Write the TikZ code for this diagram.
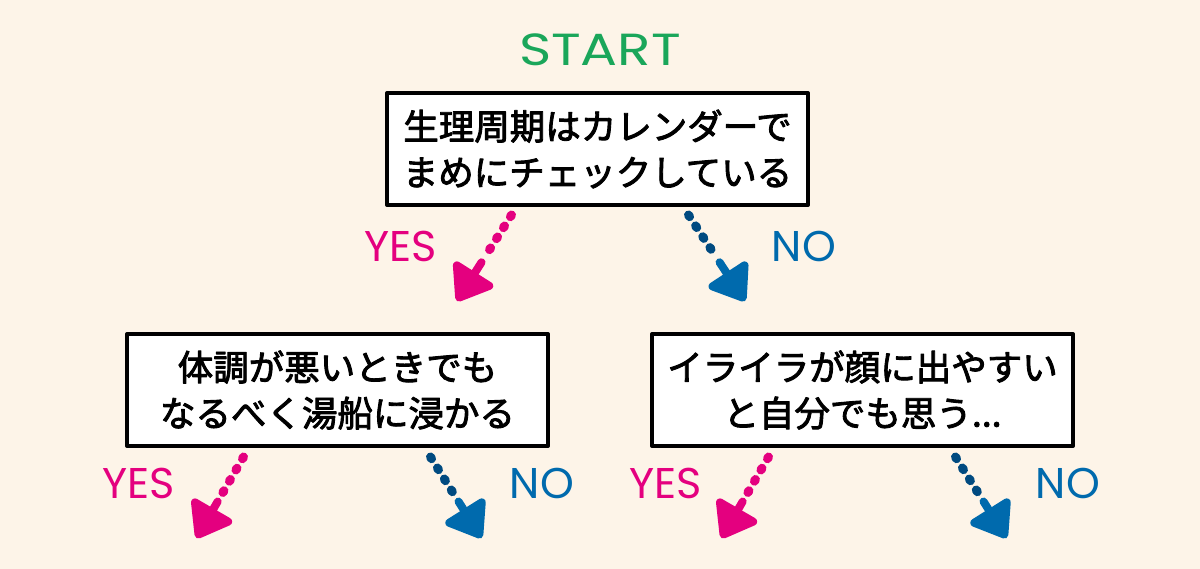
\documentclass[tikz,border=0pt]{standalone}
\usepackage{fontspec}
\usetikzlibrary{calc,arrows.meta}
\newfontfamily\jpfont[FakeBold=2.5]{Noto Sans CJK JP}
\newfontfamily\labfont{Poppins}
\definecolor{bgcream}{HTML}{FDF4E8}
\definecolor{yespink}{HTML}{E4007F}
\definecolor{noblue}{HTML}{006AAD}
\definecolor{nonavy}{HTML}{004A80}
\definecolor{startgreen}{HTML}{1AA65A}
\tikzset{
    qbox/.style={
        draw=black, line width=4pt, fill=white, inner sep=0pt,
        minimum width=421pt, minimum height=112pt, align=center,
        font=\jpfont\fontsize{35.5}{46}\selectfont
    },
    lab/.style={
        anchor=base, font=\labfont\fontsize{43}{50}\selectfont
    },
    dotline/.style={
        line width=9pt, line cap=round, dash pattern=on 2pt off 11pt
    },
    headarrow/.style={
        line width=8pt, line cap=round, -{Triangle[length=37pt,width=52pt,round]}
    }
}

\begin{document}
\begin{tikzpicture}[x=1pt,y=-1pt, line cap=round, line join=round]

\fill[bgcream] (0,0) rectangle (1200,569);
\useasboundingbox (0,0) rectangle (1200,569);

\node[lab, color=startgreen, font=\labfont\fontsize{45}{52}\selectfont, xscale=1.22] (start) at (600,66) {START};

% questions
\node[qbox] (q0) at (597.5,149) {生理周期はカレンダーで\\まめにチェックしている};
\node[qbox] (q1) at (337.5,390) {体調が悪いときでも\\なるべく湯船に浸かる};
\node[qbox] (q2) at (862.5,390) {イライラが顔に出やすい\\と自分でも思う...};

% arrow ends below each box
\coordinate (y0) at ($(q0.south)+(-86,8)$);
\coordinate (n0) at ($(q0.south)+(91,8)$);
\coordinate (y0t) at (457,301);
\coordinate (n0t) at (745,301);
\foreach \q in {1,2} {
  \coordinate (y\q) at ($(q\q.south)+(-94,9)$);
  \coordinate (n\q) at ($(q\q.south)+(93,9)$);
  \coordinate (y\q t) at ($(q\q.south)+(-141,90)$);
  \coordinate (n\q t) at ($(q\q.south)+(144,90)$);
}

\foreach \q in {0,1,2} {
  \draw[dotline, yespink] (y\q) -- ($(y\q)!0.5!(y\q t)$);
  \draw[headarrow, yespink] ($(y\q)!0.55!(y\q t)$) -- (y\q t);
  \draw[dotline, nonavy] (n\q) -- ($(n\q)!0.5!(n\q t)$);
  \draw[headarrow, noblue] ($(n\q)!0.55!(n\q t)$) -- (n\q t);
}

% answers
\node[lab, color=yespink] (yes0) at (401,262) {YES};
\node[lab, color=noblue] (no0) at (804,262) {NO};
\node[lab, color=yespink] (yes1) at (139,498) {YES};
\node[lab, color=noblue] (no1) at (542,498) {NO};
\node[lab, color=yespink] (yes2) at (666,498) {YES};
\node[lab, color=noblue] (no2) at (1068,498) {NO};

\end{tikzpicture}
\end{document}
